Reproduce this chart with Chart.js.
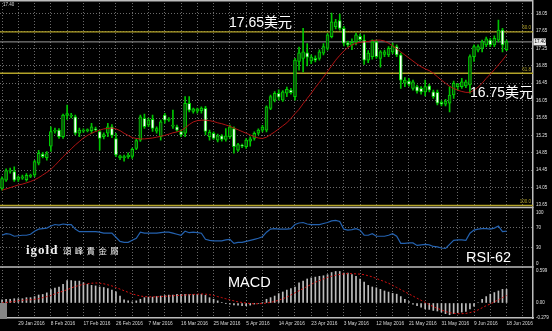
<!DOCTYPE html>
<html>
<head>
<meta charset="utf-8">
<script src="https://cdn.jsdelivr.net/npm/chart.js@4.4.0/dist/chart.umd.min.js"></script>
<style>
html, body { margin: 0; padding: 0; background: #000; }
#wrap { position: relative; width: 552px; height: 331px; overflow: hidden; background: #000; }
#chart { position: absolute; left: 0; top: 0; }
.note { position: absolute; color: #fff; white-space: nowrap; line-height: 1;
        font-family: 'Liberation Sans', Arial, 'Noto Sans CJK SC', sans-serif; }
.logo { position: absolute; color: #f0f0f0; white-space: nowrap; line-height: 1; }
</style>
</head>
<body>
<div id="wrap">
  <canvas id="chart" width="552" height="331"></canvas>
  <div class="note" style="left:229px;top:15px;font-size:14px">17.65美元</div>
  <div class="note" style="left:470px;top:85px;font-size:14px">16.75美元</div>
  <div class="note" style="left:466px;top:250px;font-size:14.5px">RSI-62</div>
  <div class="note" style="left:228px;top:275px;font-size:14.5px">MACD</div>
  <div class="logo" style="left:26px;top:242px;font:bold 13px 'Liberation Serif', serif;letter-spacing:1px">igold</div>
  <div class="logo" style="left:63px;top:246px;font-size:8.5px;letter-spacing:3.3px;font-family:'Noto Sans CJK TC', sans-serif">頌峰貴金屬</div>
</div>
<script>
// ===== Datos =====
const dateLabels = ['29 Jan 2016', '8 Feb 2016', '17 Feb 2016', '26 Feb 2016', '7 Mar 2016', '16 Mar 2016',
    '25 Mar 2016', '5 Apr 2016', '14 Apr 2016', '23 Apr 2016', '3 May 2016', '12 May 2016',
    '21 May 2016', '31 May 2016', '9 Jun 2016', '18 Jun 2016'];

const ohlcOpen = [
    14.03, 14.22, 14.43, 14.42, 14.24, 14.27, 14.23, 14.31, 14.34, 14.61,
    14.82, 14.74, 15.00, 15.35, 15.37, 15.22, 15.71, 15.69, 15.68, 15.30,
    15.35, 15.36, 15.36, 15.40, 15.34, 15.22, 15.30, 15.45, 15.18, 14.73,
    14.74, 14.76, 14.77, 14.95, 15.14, 15.64, 15.49, 15.62, 15.35, 15.22,
    15.72, 15.60, 15.46, 15.45, 15.34, 15.30, 15.99, 15.80, 15.81, 15.82,
    15.87, 15.22, 15.30, 15.14, 15.24, 15.16, 15.22, 15.41, 14.91, 15.01,
    14.99, 15.12, 15.18, 15.30, 15.37, 15.37, 15.87, 16.06, 16.22, 16.06,
    16.22, 16.29, 16.14, 16.95, 17.02, 17.15, 16.96, 17.02, 17.02, 17.14,
    17.25, 17.52, 17.75, 17.89, 17.71, 17.38, 17.33, 17.40, 17.53, 17.44,
    16.98, 17.06, 17.40, 17.02, 17.11, 17.10, 17.17, 17.29, 17.10, 16.45,
    16.50, 16.33, 16.37, 16.33, 16.25, 16.39, 16.25, 16.24, 16.01, 15.97,
    15.99, 16.18, 16.37, 16.37, 16.39, 16.41, 17.06, 17.21, 17.25, 17.33,
    17.44, 17.33, 17.44, 17.67, 17.22];
const ohlcHigh = [
    14.30, 14.48, 14.50, 14.53, 14.32, 14.34, 14.37, 14.36, 14.68, 14.91,
    14.86, 14.88, 15.45, 15.42, 15.41, 15.74, 15.95, 15.76, 15.72, 15.42,
    15.40, 15.40, 15.53, 15.44, 15.37, 15.31, 15.53, 15.50, 15.30, 14.80,
    14.80, 14.85, 14.96, 15.17, 15.72, 15.74, 15.65, 15.72, 15.45, 15.60,
    15.76, 15.66, 15.83, 15.49, 15.38, 16.14, 16.14, 15.88, 15.88, 15.91,
    15.92, 15.37, 15.33, 15.28, 15.27, 15.41, 15.49, 15.45, 15.07, 15.05,
    15.18, 15.22, 15.33, 15.40, 15.48, 15.93, 16.18, 16.26, 16.30, 16.28,
    16.36, 16.33, 17.02, 17.28, 17.71, 17.36, 17.10, 17.08, 17.22, 17.36,
    17.59, 18.06, 17.92, 18.04, 17.76, 17.42, 17.47, 17.60, 17.58, 17.56,
    17.20, 17.45, 17.44, 17.20, 17.21, 17.29, 17.37, 17.33, 17.14, 16.58,
    16.56, 16.52, 16.41, 16.37, 16.52, 16.43, 16.29, 16.29, 16.05, 16.08,
    16.37, 16.50, 16.45, 16.56, 16.52, 17.10, 17.33, 17.33, 17.44, 17.51,
    17.48, 17.54, 17.90, 17.71, 17.44];
const ohlcLow = [
    13.99, 14.19, 14.38, 14.19, 14.19, 14.24, 14.20, 14.28, 14.30, 14.57,
    14.73, 14.68, 14.88, 15.30, 15.18, 15.18, 15.62, 15.65, 15.26, 15.22,
    15.32, 15.33, 15.30, 15.35, 14.91, 15.17, 15.22, 15.20, 14.76, 14.69,
    14.66, 14.72, 14.72, 14.92, 15.11, 15.41, 15.45, 15.34, 15.30, 15.14,
    15.53, 15.57, 15.41, 15.34, 15.22, 15.22, 15.79, 15.76, 15.76, 15.76,
    15.26, 15.14, 15.16, 15.10, 15.12, 15.12, 15.18, 14.84, 14.88, 14.97,
    14.95, 15.00, 15.14, 15.26, 15.33, 15.33, 15.84, 16.02, 16.06, 16.03,
    16.14, 16.20, 16.06, 16.75, 16.71, 16.85, 16.90, 16.94, 16.98, 17.10,
    17.21, 17.49, 17.70, 17.67, 17.31, 17.29, 17.22, 17.33, 17.42, 16.88,
    16.92, 17.00, 17.02, 16.82, 17.06, 17.06, 17.13, 17.06, 16.33, 16.37,
    16.38, 16.29, 16.22, 16.20, 16.16, 16.25, 16.10, 15.95, 15.93, 15.93,
    15.79, 16.10, 16.30, 16.33, 16.35, 16.22, 16.95, 17.17, 17.17, 17.29,
    17.29, 17.29, 17.40, 17.17, 17.20];
const ohlcClose = [
    14.26, 14.44, 14.45, 14.22, 14.29, 14.30, 14.33, 14.33, 14.65, 14.84,
    14.76, 14.83, 15.34, 15.37, 15.22, 15.72, 15.75, 15.72, 15.30, 15.37,
    15.37, 15.37, 15.45, 15.38, 15.18, 15.27, 15.45, 15.25, 14.80, 14.78,
    14.75, 14.80, 14.93, 15.13, 15.68, 15.45, 15.60, 15.41, 15.41, 15.56,
    15.60, 15.63, 15.49, 15.37, 15.26, 15.99, 15.83, 15.86, 15.86, 15.88,
    15.34, 15.32, 15.18, 15.24, 15.16, 15.24, 15.45, 14.99, 15.04, 15.00,
    15.14, 15.17, 15.30, 15.37, 15.44, 15.91, 16.14, 16.22, 16.13, 16.25,
    16.31, 16.23, 16.98, 17.15, 17.17, 17.05, 17.05, 16.98, 17.17, 17.29,
    17.56, 17.86, 17.86, 17.71, 17.37, 17.33, 17.39, 17.56, 17.45, 16.98,
    17.14, 17.40, 17.06, 17.17, 17.17, 17.25, 17.31, 17.10, 16.52, 16.52,
    16.42, 16.48, 16.27, 16.25, 16.37, 16.29, 16.14, 15.99, 15.97, 16.04,
    16.18, 16.45, 16.43, 16.48, 16.48, 17.06, 17.29, 17.29, 17.40, 17.47,
    17.33, 17.48, 17.67, 17.33, 17.40];

const maValues = [
    13.99, 14.02, 14.05, 14.08, 14.11, 14.13, 14.16, 14.19, 14.23, 14.28,
    14.34, 14.40, 14.47, 14.56, 14.66, 14.76, 14.85, 14.94, 15.03, 15.11,
    15.19, 15.25, 15.30, 15.34, 15.37, 15.40, 15.41, 15.42, 15.40, 15.36,
    15.30, 15.25, 15.20, 15.18, 15.17, 15.17, 15.18, 15.19, 15.21, 15.23,
    15.25, 15.28, 15.31, 15.33, 15.36, 15.42, 15.50, 15.56, 15.59, 15.60,
    15.60, 15.59, 15.57, 15.54, 15.52, 15.49, 15.46, 15.42, 15.38, 15.34,
    15.30, 15.26, 15.22, 15.19, 15.18, 15.21, 15.27, 15.33, 15.40, 15.47,
    15.54, 15.64, 15.75, 15.85, 15.98, 16.10, 16.22, 16.35, 16.47, 16.59,
    16.72, 16.85, 16.98, 17.09, 17.19, 17.27, 17.33, 17.37, 17.39, 17.40,
    17.41, 17.43, 17.44, 17.44, 17.42, 17.37, 17.31, 17.24, 17.17, 17.10,
    17.03, 16.96, 16.89, 16.83, 16.78, 16.74, 16.68, 16.60, 16.52, 16.45,
    16.38, 16.33, 16.29, 16.26, 16.24, 16.24, 16.29, 16.36, 16.45, 16.56,
    16.66, 16.76, 16.87, 16.98, 17.10];

const rsiValues = [
    55, 58, 57, 53, 54, 55, 55, 57, 63, 67,
    68, 69, 73, 76, 75, 77, 76, 76, 67, 62,
    62, 62, 62, 62, 61, 59, 59, 59, 51, 43,
    41, 41, 45, 49, 61, 59, 59, 59, 59, 60,
    61, 61, 59, 57, 55, 63, 60, 61, 60, 59,
    47, 45, 44, 44, 44, 46, 47, 39, 41, 41,
    43, 45, 47, 49, 52, 61, 67, 68, 67, 67,
    67, 68, 76, 79, 80, 77, 76, 76, 76, 78,
    80, 83, 84, 82, 67, 65, 66, 68, 65, 55,
    55, 58, 53, 53, 53, 55, 58, 53, 39, 39,
    40, 40, 35, 36, 37, 36, 33, 32, 30, 29,
    37, 45, 46, 46, 45, 59, 65, 67, 68, 68,
    67, 69, 73, 62, 63];

const macdHist = [
    0.06, 0.07, 0.07, 0.08, 0.08, 0.08, 0.10, 0.10, 0.12, 0.15,
    0.16, 0.19, 0.25, 0.28, 0.30, 0.35, 0.42, 0.42, 0.41, 0.41,
    0.38, 0.35, 0.33, 0.32, 0.30, 0.29, 0.27, 0.24, 0.21, 0.13,
    0.06, 0.04, 0.02, 0.04, 0.07, 0.10, 0.11, 0.11, 0.12, 0.13,
    0.14, 0.15, 0.15, 0.16, 0.16, 0.16, 0.16, 0.16, 0.16, 0.16,
    0.145, 0.10, 0.07, 0.04, 0.01, -0.005, -0.02, -0.036, -0.04, -0.05,
    -0.05, -0.04, -0.02, -0.01, 0.01, 0.07, 0.10, 0.13, 0.176, 0.206,
    0.24, 0.27, 0.30, 0.376, 0.41, 0.45, 0.47, 0.485, 0.50, 0.51,
    0.53, 0.57, 0.59, 0.59, 0.56, 0.56, 0.53, 0.50, 0.45, 0.39,
    0.33, 0.30, 0.285, 0.255, 0.225, 0.205, 0.18, 0.165, 0.12, 0.07,
    0.025, -0.02, -0.05, -0.08, -0.11, -0.12, -0.14, -0.15, -0.17, -0.20,
    -0.22, -0.20, -0.18, -0.17, -0.16, -0.11, -0.06, 0.01, 0.07, 0.12,
    0.165, 0.195, 0.225, 0.255, 0.255];
const macdSignal = [
    0.00, 0.01, 0.02, 0.03, 0.04, 0.05, 0.06, 0.06, 0.07, 0.08,
    0.10, 0.12, 0.14, 0.17, 0.20, 0.22, 0.25, 0.28, 0.31, 0.33,
    0.35, 0.36, 0.37, 0.375, 0.37, 0.36, 0.34, 0.32, 0.29, 0.26,
    0.23, 0.20, 0.17, 0.15, 0.13, 0.12, 0.115, 0.115, 0.115, 0.12,
    0.125, 0.13, 0.135, 0.14, 0.145, 0.15, 0.155, 0.16, 0.165, 0.17,
    0.165, 0.155, 0.14, 0.12, 0.10, 0.08, 0.06, 0.04, 0.02, 0.01,
    0.00, -0.01, -0.015, -0.015, -0.01, 0.00, 0.01, 0.03, 0.05, 0.08,
    0.11, 0.15, 0.19, 0.23, 0.27, 0.31, 0.35, 0.39, 0.42, 0.45,
    0.48, 0.50, 0.52, 0.535, 0.545, 0.55, 0.55, 0.545, 0.54, 0.53,
    0.51, 0.49, 0.46, 0.43, 0.40, 0.37, 0.33, 0.29, 0.25, 0.21,
    0.17, 0.13, 0.09, 0.05, 0.01, -0.03, -0.07, -0.10, -0.13, -0.16,
    -0.18, -0.195, -0.20, -0.20, -0.195, -0.18, -0.16, -0.13, -0.09, -0.05,
    -0.02, 0.02, 0.06, 0.10, 0.14];

const priceTicks = [18.05, 17.65, 17.25, 16.85, 16.45, 16.05, 15.65, 15.25, 14.85, 14.45, 14.05, 13.65];
const rsiTicks = [100, 70, 30, 0];
const rsiGridLevels = [70, 30];
const macdTicks = [0.599, 0, -0.279];
const fibLevels = [17.63, 16.68, 13.64];
const fibNames = ['50.0', '61.8', '100.0'];
const lastPrice = 17.40;

// ===== Estilos =====
const FONT = "'Liberation Sans', Arial, sans-serif";
const GRID = '#6a6a6a';
const FRAME = '#bdbdbd';
const FIB_COLOR = '#b3a329';
const BULL_FILL = '#0c4a0c';
const TOTAL_SLOTS = 131;

const categories = [];
for (let i = 0; i < TOTAL_SLOTS; i++) categories.push('');
dateLabels.forEach((d, k) => { categories[4 + 8 * k] = d; });

const wicks = ohlcHigh.map((h, i) => [ohlcLow[i], h]);
const bodies = ohlcOpen.map((o, i) => [Math.min(o, ohlcClose[i]), Math.max(o, ohlcClose[i])]);
const bodyFill = ohlcOpen.map((o, i) => ohlcClose[i] >= o ? BULL_FILL : '#ffffff');

function sinPadding(s) {
    s.paddingTop = 0; s.paddingBottom = 0; s.paddingLeft = 0; s.paddingRight = 0;
}

const overlay = {
    id: 'overlay',
    beforeDatasetsDraw(chart) {
        const { ctx, chartArea, scales } = chart;
        ctx.save();
        fibLevels.forEach((lv, k) => {
            const y = scales.y.getPixelForValue(lv);
            ctx.strokeStyle = FIB_COLOR;
            ctx.lineWidth = 1.4;
            ctx.beginPath(); ctx.moveTo(chartArea.left, y); ctx.lineTo(chartArea.right, y); ctx.stroke();
            ctx.fillStyle = FIB_COLOR;
            ctx.font = '4.5px ' + FONT;
            ctx.textAlign = 'right';
            ctx.textBaseline = 'bottom';
            ctx.fillText(fibNames[k], chartArea.right - 2, y - 1.5);
        });
        const py = scales.y.getPixelForValue(lastPrice);
        ctx.strokeStyle = '#9a9a9a';
        ctx.lineWidth = 1;
        ctx.beginPath(); ctx.moveTo(chartArea.left, py); ctx.lineTo(chartArea.right, py); ctx.stroke();
        ctx.restore();
    },
    afterDraw(chart) {
        const { ctx, chartArea, scales } = chart;
        ctx.save();
        ctx.strokeStyle = FRAME;
        ctx.lineWidth = 1.5;
        [0.75, scales.yRsi.top, scales.yMacd.top].forEach(y => {
            ctx.beginPath(); ctx.moveTo(0, y); ctx.lineTo(chartArea.right, y); ctx.stroke();
        });
        // caja del precio actual
        const py = scales.y.getPixelForValue(lastPrice);
        ctx.fillStyle = '#ececec';
        ctx.fillRect(chartArea.right + 0.5, py - 3.5, 12.5, 7);
        ctx.fillStyle = '#000';
        ctx.font = '4.5px ' + FONT;
        ctx.textAlign = 'left';
        ctx.textBaseline = 'middle';
        ctx.fillText(lastPrice.toFixed(2), chartArea.right + 1.5, py);
        // etiqueta superior izquierda
        ctx.fillStyle = '#d8d8d8';
        ctx.fillText(lastPrice.toFixed(2), 3, 5);
        // caja gris abajo a la izquierda
        ctx.fillStyle = '#858585';
        ctx.fillRect(0, scales.yMacd.getPixelForValue(0), 7, 16);
        ctx.restore();
    }
};

new Chart(document.getElementById('chart'), {
    type: 'bar',
    data: {
        labels: categories,
        datasets: [
            { type: 'line', label: 'MA', data: maValues, yAxisID: 'y', borderColor: '#b01414', borderWidth: 1,
              pointRadius: 0, order: 0 },
            { type: 'bar', label: 'Cuerpo', data: bodies, yAxisID: 'y', backgroundColor: bodyFill,
              borderColor: '#00d200', borderWidth: 1, borderSkipped: false, barThickness: 3,
              grouped: false, minBarLength: 1, order: 1 },
            { type: 'bar', label: 'Mecha', data: wicks, yAxisID: 'y', backgroundColor: '#00c400',
              barThickness: 1, grouped: false, order: 2 },
            { type: 'line', label: 'RSI', data: rsiValues, yAxisID: 'yRsi', borderColor: '#2462b0',
              borderWidth: 1.2, pointRadius: 0, order: 0 },
            { type: 'bar', label: 'MACD', data: macdHist, yAxisID: 'yMacd', backgroundColor: '#bdbdbd',
              barThickness: 1, grouped: false, order: 2 },
            { type: 'line', label: 'Signal', data: macdSignal, yAxisID: 'yMacd', borderColor: '#d41010',
              borderWidth: 1, borderDash: [2, 2], pointRadius: 0, order: 0 }
        ]
    },
    options: {
        responsive: false,
        animation: false,
        events: [],
        layout: { padding: 0 },
        plugins: { legend: { display: false }, tooltip: { enabled: false } },
        scales: {
            x: {
                type: 'category',
                offset: true,
                grid: { offset: false, drawTicks: false, color: c => c.index % 4 === 0 ? GRID : 'transparent' },
                border: { display: true, color: FRAME, width: 1.5, dash: [1, 2] },
                ticks: { autoSkip: false, maxRotation: 0, align: 'start', padding: 3, color: '#d8d8d8',
                         font: { size: 4.8, family: FONT }, callback: (v, i) => categories[i] },
                afterFit: s => { s.height = 13; sinPadding(s); }
            },
            y: {
                type: 'linear', position: 'right', stack: 'panels', stackWeight: 207.5,
                min: 13.593, max: 18.363,
                afterBuildTicks: s => { s.ticks = priceTicks.map(v => ({ value: v })); },
                afterFit: s => { s.width = 19; sinPadding(s); },
                grid: { color: GRID, drawTicks: false },
                border: { display: true, color: FRAME, width: 1.5, dash: [1, 2] },
                ticks: { color: '#e0e0e0', padding: 3, font: { size: 4.5, family: FONT },
                         callback: v => v.toFixed(2) }
            },
            yRsi: {
                type: 'linear', position: 'right', stack: 'panels', stackWeight: 59.5,
                min: -7.3, max: 109.4,
                afterBuildTicks: s => { s.ticks = rsiTicks.map(v => ({ value: v })); },
                afterFit: s => { s.width = 19; sinPadding(s); },
                grid: { drawTicks: false, color: c => rsiGridLevels.includes(c.tick.value) ? GRID : 'transparent' },
                border: { display: true, color: FRAME, width: 1.5, dash: [1, 2] },
                ticks: { color: '#e0e0e0', padding: 3, font: { size: 4.5, family: FONT },
                         callback: v => String(v) }
            },
            yMacd: {
                type: 'linear', position: 'right', stack: 'panels', stackWeight: 51,
                min: -0.281, max: 0.674,
                afterBuildTicks: s => { s.ticks = macdTicks.map(v => ({ value: v })); },
                afterFit: s => { s.width = 19; sinPadding(s); },
                grid: { drawTicks: false, color: 'transparent' },
                border: { display: true, color: FRAME, width: 1.5 },
                ticks: { color: '#e0e0e0', padding: 3, font: { size: 4.5, family: FONT },
                         callback: v => v === 0 ? '0.00' : String(v) }
            }
        }
    },
    plugins: [overlay]
});
</script>
</body>
</html>
